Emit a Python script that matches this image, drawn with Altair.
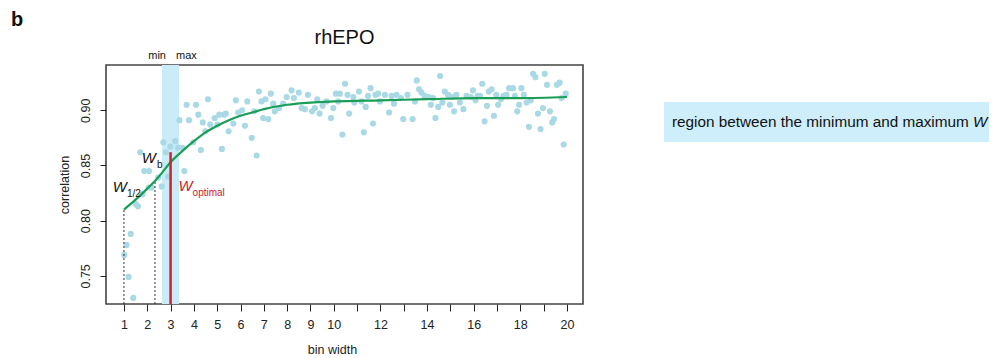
import altair as alt
import pandas as pd

# ---- data ----
pt_x = [1.01,1.11,1.20,1.29,1.40,1.51,1.60,1.70,1.80,1.87,2.06,2.08,2.19,2.47,2.62,2.69,2.80,2.89,2.99,3.20,
        3.32,3.38,3.51,3.59,3.69,3.79,3.97,4.09,4.19,4.30,4.38,4.49,4.60,4.70,4.89,5.01,5.09,5.20,5.30,5.37,
        5.49,5.69,5.80,5.90,6.07,6.19,6.29,6.48,6.59,6.69,6.79,6.90,6.97,7.07,7.19,7.30,7.40,7.47,7.65,7.83,
        7.98,8.19,8.29,8.50,8.62,8.76,8.89,9.07,9.19,9.29,9.39,9.52,9.69,9.88,9.98,10.09,10.19,10.26,10.37,10.48,
        10.59,10.66,10.84,10.88,11.08,11.19,11.29,11.37,11.47,11.58,11.68,11.79,11.90,11.98,12.19,12.37,12.48,12.58,12.69,12.88,
        12.98,13.16,13.38,13.48,13.56,13.66,13.76,13.90,14.07,14.16,14.26,14.36,14.48,14.56,14.66,14.76,14.90,14.98,15.08,15.16,
        15.26,15.41,15.56,15.69,15.88,15.97,16.08,16.17,16.27,16.37,16.47,16.57,16.65,16.77,16.87,16.97,17.05,17.17,17.28,17.41,
        17.52,17.69,17.77,17.87,17.95,18.05,18.15,18.27,18.37,18.45,18.55,18.65,18.76,18.87,18.97,19.05,19.15,19.27,19.37,19.45,
        19.57,19.69,19.77,19.86,19.95]
pt_y = [0.769,0.778,0.749,0.788,0.730,0.815,0.813,0.862,0.824,0.845,0.830,0.845,0.830,0.839,0.831,0.871,0.862,0.840,0.867,0.872,
        0.866,0.891,0.866,0.845,0.905,0.891,0.871,0.905,0.896,0.864,0.889,0.881,0.910,0.887,0.893,0.887,0.896,0.865,0.896,0.897,
        0.881,0.888,0.909,0.898,0.900,0.886,0.908,0.875,0.899,0.859,0.917,0.908,0.893,0.910,0.892,0.915,0.906,0.899,0.902,0.906,
        0.912,0.918,0.911,0.916,0.902,0.901,0.914,0.899,0.902,0.910,0.897,0.904,0.908,0.893,0.902,0.915,0.908,0.915,0.878,0.924,
        0.914,0.897,0.912,0.907,0.917,0.908,0.880,0.903,0.913,0.920,0.888,0.914,0.915,0.908,0.914,0.898,0.913,0.906,0.914,0.911,
        0.892,0.914,0.892,0.908,0.927,0.919,0.916,0.913,0.912,0.905,0.911,0.893,0.903,0.931,0.907,0.917,0.914,0.905,0.912,0.899,
        0.914,0.907,0.901,0.913,0.912,0.918,0.909,0.913,0.913,0.924,0.890,0.904,0.917,0.919,0.895,0.914,0.905,0.910,0.913,0.914,
        0.920,0.920,0.913,0.899,0.905,0.920,0.914,0.907,0.885,0.909,0.933,0.930,0.897,0.883,0.902,0.933,0.923,0.899,0.889,0.892,
        0.923,0.925,0.911,0.869,0.915]

curve_x = [1, 1.5, 2, 2.33, 2.5, 3, 3.5, 4, 4.5, 5, 5.5, 6, 6.5, 7, 8, 9, 10, 12, 14, 16, 18, 20]
curve_y = [0.810, 0.819, 0.829, 0.836, 0.840, 0.853, 0.863, 0.872, 0.880, 0.886, 0.891, 0.895, 0.898, 0.901,
           0.905, 0.907, 0.908, 0.909, 0.910, 0.911, 0.911, 0.912]

w_min, w_max = 2.63, 3.36
w_half, w_half_y = 1.0, 0.810
w_b, w_b_y = 2.33, 0.836
w_opt, w_opt_y = 3.0, 0.862
y_bottom = 0.7245

x_ticks = list(range(1, 21))
y_ticks = [0.75, 0.80, 0.85, 0.90]

FONT = "Liberation Sans"
W, H = 477, 239

xs = alt.Scale(domain=[0.23, 20.69], nice=False, zero=False)
ys = alt.Scale(domain=[y_bottom, 0.941], nice=False, zero=False)

pts = pd.DataFrame({"x": pt_x, "y": pt_y})
crv = pd.DataFrame({"x": curve_x, "y": curve_y})

band = alt.Chart(pd.DataFrame({"a": [w_min], "b": [w_max]})).mark_rect(color="#c9ecf8").encode(
    x=alt.X("a:Q", scale=xs,
            axis=alt.Axis(values=x_ticks, tickCount=40, format="d", title="bin width", grid=False,
                          domain=False, labelOverlap=False,
                          labelExpr="datum.value <= 10 || datum.value % 2 == 0 ? datum.label : ''",
                          tickSize=7, tickColor="#222", labelPadding=7, labelFont=FONT, labelFontSize=12.5,
                          labelColor="#222", titleFont=FONT, titleFontSize=12.5, titleFontWeight="normal",
                          titleColor="#222", titleX=226, titleY=49, titleBaseline="alphabetic",
                          titleAnchor="middle", titleAlign="center")),
    x2="b:Q",
    y=alt.value(0), y2=alt.value(H))

points = alt.Chart(pts).mark_circle(size=38, color="#a9d9e4", opacity=1).encode(
    x=alt.X("x:Q", scale=xs),
    y=alt.Y("y:Q", scale=ys,
            axis=alt.Axis(values=y_ticks, tickCount=10, format=".2f", title="correlation", grid=False,
                          domain=False, labelOverlap=False,
                          tickSize=6, tickColor="#222", labelAngle=-90, labelAlign="center",
                          labelBaseline="bottom", labelPadding=8, labelFont=FONT, labelFontSize=12.5,
                          labelColor="#222", titleFont=FONT, titleFontSize=12.5, titleFontWeight="normal",
                          titleColor="#222", titlePadding=8)))

dots = alt.Chart(pd.DataFrame({"x": [w_half, w_b], "y0": [y_bottom, y_bottom], "y1": [w_half_y, w_b_y]})
                 ).mark_rule(color="#333", strokeDash=[2, 2], strokeWidth=1).encode(
    x=alt.X("x:Q", scale=xs), y=alt.Y("y0:Q", scale=ys), y2="y1:Q")

line = alt.Chart(crv).mark_line(color="#1a9e57", strokeWidth=2.2, interpolate="monotone").encode(
    x=alt.X("x:Q", scale=xs), y=alt.Y("y:Q", scale=ys))

red = alt.Chart(pd.DataFrame({"x": [w_opt], "y0": [y_bottom], "y1": [w_opt_y]})).mark_rule(
    color="#d0202e", strokeWidth=2.5).encode(
    x=alt.X("x:Q", scale=xs), y=alt.Y("y0:Q", scale=ys), y2="y1:Q")


def label(txt, x, y, dx, dy, size, color="#111", align="left", italic=False):
    return alt.Chart(pd.DataFrame({"x": [x], "y": [y], "t": [txt]})).mark_text(
        font=FONT, fontSize=size, color=color, align=align, baseline="middle", dx=dx, dy=dy,
        fontStyle="italic" if italic else "normal").encode(
        x=alt.X("x:Q", scale=xs), y=alt.Y("y:Q", scale=ys), text="t:N")


ann = [
    label("W", w_half, w_half_y, 3, -23, 15, align="right", italic=True),
    label("1/2", w_half, w_half_y, 3, -16, 10),
    label("W", w_b, w_b_y, 1, -23, 15, align="right", italic=True),
    label("b", w_b, w_b_y, 2, -16, 10),
    label("W", w_opt, w_opt_y, 8, 34, 15, color="#d0202e", italic=True),
    label("optimal", w_opt, w_opt_y, 22, 41, 10, color="#d0202e"),
    label("min", w_min, 0.941, 4, -9, 11, align="right"),
    label("max", w_max, 0.941, -3, -9, 11, align="left"),
]

title = alt.Chart(pd.DataFrame({"t": ["rhEPO"]})).mark_text(
    font=FONT, fontSize=20, color="#111", align="center", baseline="middle").encode(
    x=alt.value(W / 2), y=alt.value(-27), text="t:N")
panel = alt.Chart(pd.DataFrame({"t": ["b"]})).mark_text(
    font=FONT, fontSize=20, fontWeight="bold", color="#111", align="left", baseline="middle").encode(
    x=alt.value(-95), y=alt.value(-45), text="t:N")

legend_box = alt.Chart(pd.DataFrame({"t": [""]})).mark_rect(color="#cdeefa").encode(
    x=alt.value(558), x2=alt.value(891), y=alt.value(37), y2=alt.value(77))
legend_txt = alt.Chart(pd.DataFrame({"t": ["region between the minimum and maximum"]})).mark_text(
    font=FONT, fontSize=15.3, color="#111", align="left", baseline="middle").encode(
    x=alt.value(566), y=alt.value(57), text="t:N")
legend_w = alt.Chart(pd.DataFrame({"t": ["W"]})).mark_text(
    font=FONT, fontSize=15.3, color="#111", align="left", baseline="middle", fontStyle="italic").encode(
    x=alt.value(867), y=alt.value(57), text="t:N")

chart = alt.layer(band, points, dots, line, red, *ann, title, panel, legend_box, legend_txt, legend_w).properties(
    width=W, height=H,
    autosize=alt.AutoSizeParams(type="none"),
    padding={"left": 98, "top": 57, "right": 406, "bottom": 54},
).configure_view(stroke="#444", strokeWidth=1.6)

chart.save("out.html", embed_options={"renderer": "svg", "actions": False})
